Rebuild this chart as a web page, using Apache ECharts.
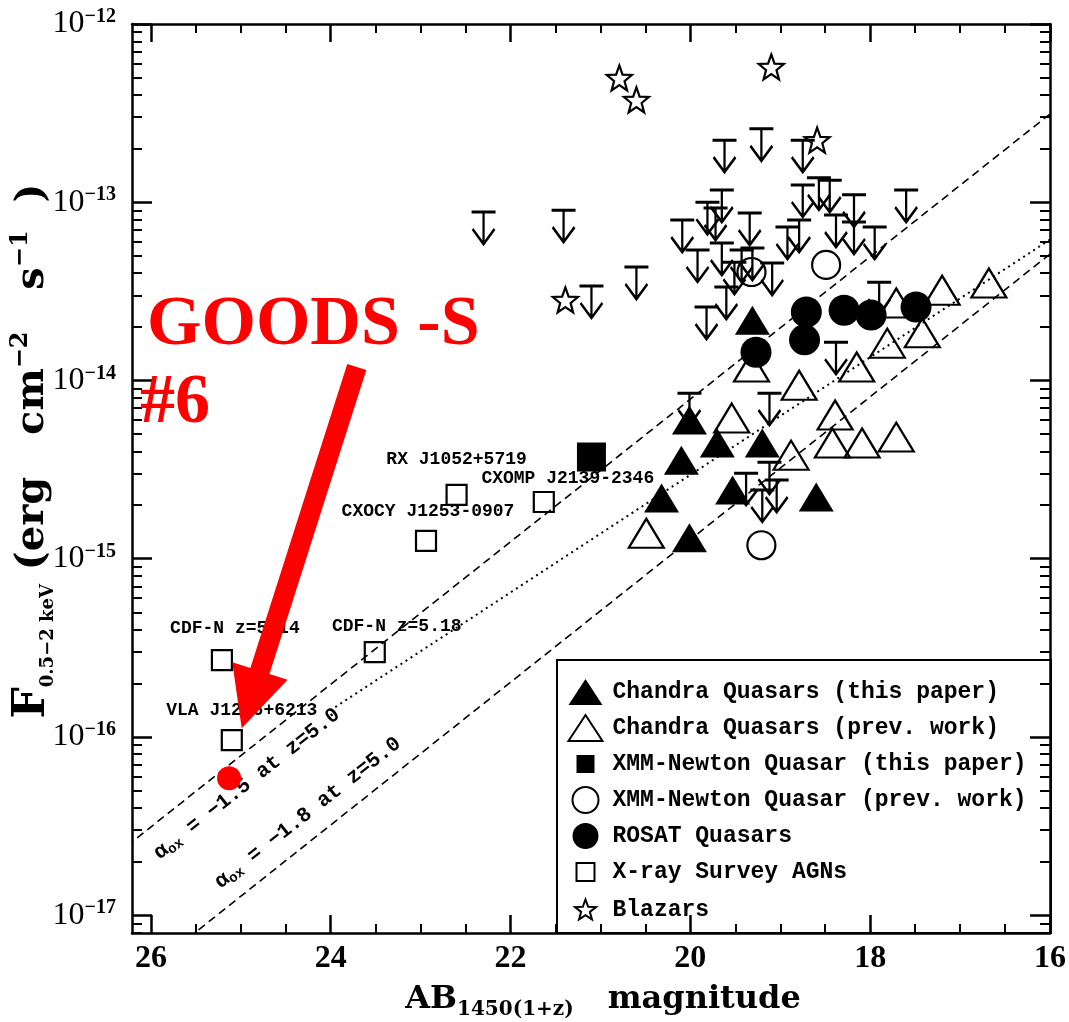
<!DOCTYPE html>
<html><head><meta charset="utf-8">
<script src="https://cdn.jsdelivr.net/npm/echarts@6/dist/echarts.min.js"></script>
<style>html,body{margin:0;padding:0;background:#fff}#c{width:1069px;height:1022px}</style>
</head><body><div id="c"></div>
<script>
// ---------------- DATA ----------------
// x: AB_1450(1+z) magnitude ; y: F(0.5-2 keV) in erg cm^-2 s^-1
const xTickValues = [16, 18, 20, 22, 24, 26];
const xMinorTickValues = [16.5, 17, 17.5, 18.5, 19, 19.5, 20.5, 21, 21.5, 22.5, 23, 23.5, 24.5, 25, 25.5];
const yTickExponents = [-17, -16, -15, -14, -13, -12];
const yMinorMultipliers = [2, 3, 4, 5, 6, 7, 8, 9];

const chandraThisMag  = [19.31, 20.01, 19.70, 19.20, 20.10, 20.32, 19.53, 18.60, 20.01];
const chandraThisFlux = [2.18e-14, 6.0e-15, 4.46e-15, 4.46e-15, 3.57e-15, 2.19e-15, 2.43e-15, 2.22e-15, 1.31e-15];

const chandraPrevMag  = [16.68, 17.20, 17.71, 17.42, 17.81, 18.15, 19.32, 18.79, 19.54, 18.39, 18.42, 18.09, 17.71, 18.88, 20.49];
const chandraPrevFlux = [3.52e-14, 3.21e-14, 2.72e-14, 1.85e-14, 1.62e-14, 1.19e-14, 1.19e-14, 9.4e-15, 6.15e-15, 6.4e-15, 4.46e-15, 4.46e-15, 4.81e-15, 3.81e-15, 1.39e-15];

const xmmThisMag  = [21.10];
const xmmThisFlux = [3.72e-15];

const xmmPrevMag  = [19.21, 18.49, 19.32];
const xmmPrevFlux = [1.19e-15, 4.45e-14, 4.06e-14];

const rosatMag  = [17.49, 17.99, 18.29, 18.71, 18.73, 19.27];
const rosatFlux = [2.58e-14, 2.33e-14, 2.48e-14, 2.42e-14, 1.69e-14, 1.44e-14];

const surveyNames = ['RX J1052+5719', 'CXOMP J2139-2346', 'CXOCY J1253-0907', 'CDF-N z=5.14', 'CDF-N z=5.18', 'VLA J1236+6213'];
const surveyMag   = [22.60, 21.63, 22.94, 25.21, 23.51, 25.10];
const surveyFlux  = [2.28e-15, 2.08e-15, 1.26e-15, 2.70e-16, 2.99e-16, 9.6e-17];

const blazarMag  = [20.79, 20.60, 19.10, 18.59, 21.39];
const blazarFlux = [4.98e-13, 3.75e-13, 5.74e-13, 2.23e-13, 2.83e-14];

const upperLimMag  = [22.30, 21.41, 20.60, 21.10, 19.62, 19.21, 18.75, 19.65, 19.81, 20.09, 19.34, 18.75, 18.57, 18.45, 18.18, 17.60, 18.92, 18.79, 18.38, 18.18, 17.95, 19.92, 19.65, 19.43, 19.31, 19.09, 19.60, 19.82, 17.90, 18.38, 19.12, 20.01, 19.12, 19.38, 19.20, 19.04, 19.72, 19.51];
const upperLimFlux = [8.81e-14, 9.03e-14, 4.33e-14, 3.39e-14, 2.23e-13, 2.58e-13, 2.23e-13, 1.17e-13, 1.00e-13, 7.94e-14, 8.69e-14, 1.25e-13, 1.37e-13, 1.33e-13, 1.10e-13, 1.17e-13, 7.26e-14, 7.94e-14, 8.47e-14, 7.74e-14, 7.26e-14, 5.40e-14, 5.90e-14, 5.40e-14, 5.53e-14, 4.56e-14, 3.34e-14, 2.58e-14, 3.56e-14, 1.64e-14, 8.49e-15, 8.49e-15, 3.48e-15, 3.02e-15, 2.43e-15, 2.76e-15, 9.27e-14, 4.61e-14];

const goodsMag  = [25.13];
const goodsFlux = [5.87e-17];

// reference lines (end points)
const aox15Mag  = [16, 26.21];
const aox15Flux = [3.126e-13, 2.576e-17];
const aoxLMag   = [16, 23.95];
const aoxLFlux  = [6.17e-14, 1.47e-16];
const aox18Mag  = [16, 25.52];
const aox18Flux = [5.12e-14, 7.9e-18];

// annotation arrow (data coordinates)
const arrowTail = [23.71, 1.19e-14];
const arrowTip  = [24.99, 1.12e-16];

const legendNames = ['Chandra Quasars (this paper)', 'Chandra Quasars (prev. work)', 'XMM-Newton Quasar (this paper)', 'XMM-Newton Quasar (prev. work)', 'ROSAT Quasars', 'X-ray Survey AGNs', 'Blazars'];

// ---------------- BUILD ----------------
const pts = (ms, fs) => ms.map((m, i) => [m, Math.log10(fs[i])]);

function starPath(cx, cy, R, r, pad) {
  let s = 'path://';
  if (pad) s += 'M' + (cx - pad) + ',' + (cy - pad) + 'M' + (cx + pad) + ',' + (cy + pad);
  for (let i = 0; i < 10; i++) {
    const a = (-90 + i * 36) * Math.PI / 180;
    const rr = i % 2 ? r : R;
    s += (i ? 'L' : 'M') + (cx + rr * Math.cos(a)).toFixed(2) + ',' + (cy + rr * Math.sin(a)).toFixed(2);
  }
  return s + 'Z';
}
const STAR = starPath(12, 12, 12, 5, 0);
const STAR_LEG = starPath(13, 13, 11, 4.6, 13);
const SQ_LEG = 'path://M0,0M26,26M4,4L22,4L22,22L4,22Z';
const ULIM = 'path://M0,0L24,0M12,0L12,32M1,17L12,32L23,17';

const minorY = [];
for (let n = -18; n <= -13; n++) yMinorMultipliers.forEach(k => { const v = n + Math.log10(k); if (v > -17.1 && v < -12) minorY.push(v); });

const black = '#000';
const tickLine = { color: black, width: 2.5 };
const xBase = { type: 'value', min: 16, max: 26.21, inverse: true, splitLine: { show: false }, axisPointer: { show: false } };
const yBase = { type: 'value', min: -17.10, max: -12, splitLine: { show: false }, axisPointer: { show: false } };

const xLabel = { customValues: xTickValues, margin: 10, color: black, fontFamily: 'Liberation Serif', fontWeight: 'bold', fontSize: 32, formatter: v => String(Math.round(v)) };
const yLabel = {
  customValues: yTickExponents, margin: 16, color: black,
  formatter: v => '{b|10}{s|\u2212' + Math.abs(Math.round(v)) + '}',
  rich: {
    b: { fontFamily: 'Liberation Serif', fontSize: 32, lineHeight: 34, color: black },
    s: { fontFamily: 'Liberation Serif', fontWeight: 'bold', fontSize: 20, lineHeight: 20, verticalAlign: 'top', color: black }
  }
};

const xAxes = [
  Object.assign({}, xBase, { position: 'bottom', axisLine: { show: true, onZero: false, lineStyle: tickLine }, axisTick: { inside: true, length: 18, lineStyle: tickLine, customValues: xTickValues }, axisLabel: xLabel }),
  Object.assign({}, xBase, { position: 'bottom', axisLine: { show: false }, axisTick: { inside: true, length: 9, lineStyle: { color: black, width: 2 }, customValues: xMinorTickValues }, axisLabel: { show: false } }),
  Object.assign({}, xBase, { position: 'top', axisLine: { show: true, onZero: false, lineStyle: tickLine }, axisTick: { inside: true, length: 18, lineStyle: tickLine, customValues: xTickValues }, axisLabel: { show: false } }),
  Object.assign({}, xBase, { position: 'top', axisLine: { show: false }, axisTick: { inside: true, length: 9, lineStyle: { color: black, width: 2 }, customValues: xMinorTickValues }, axisLabel: { show: false } })
];
const yAxes = [
  Object.assign({}, yBase, { position: 'left', axisLine: { show: true, onZero: false, lineStyle: tickLine }, axisTick: { inside: true, length: 20, lineStyle: tickLine, customValues: yTickExponents }, axisLabel: yLabel }),
  Object.assign({}, yBase, { position: 'left', axisLine: { show: false }, axisTick: { inside: true, length: 10, lineStyle: { color: black, width: 2 }, customValues: minorY }, axisLabel: { show: false } }),
  Object.assign({}, yBase, { position: 'right', axisLine: { show: true, onZero: false, lineStyle: tickLine }, axisTick: { inside: true, length: 20, lineStyle: tickLine, customValues: yTickExponents }, axisLabel: { show: false } }),
  Object.assign({}, yBase, { position: 'right', axisLine: { show: false }, axisTick: { inside: true, length: 10, lineStyle: { color: black, width: 2 }, customValues: minorY }, axisLabel: { show: false } })
];

const labelOffsets = {
  'RX J1052+5719': [0, -6], 'CXOMP J2139-2346': [24, 6], 'CXOCY J1253-0907': [2, 0],
  'CDF-N z=5.14': [13, -2], 'CDF-N z=5.18': [22, 4], 'VLA J1236+6213': [10, 0]
};

const openStyle = { color: 'none', borderColor: black, borderWidth: 2.2, opacity: 1 };
const solid = { color: black, opacity: 1 };
const series = [
  { name: 'aox15', type: 'line', data: pts(aox15Mag, aox15Flux), symbol: 'none', silent: true, z: 1, lineStyle: { color: black, width: 1.6, type: [8, 5] } },
  { name: 'aoxL', type: 'line', data: pts(aoxLMag, aoxLFlux), symbol: 'none', silent: true, z: 1, lineStyle: { color: black, width: 2, type: [2, 4] } },
  { name: 'aox18', type: 'line', data: pts(aox18Mag, aox18Flux), symbol: 'none', silent: true, z: 1, lineStyle: { color: black, width: 1.6, type: [8, 5] } },
  { name: 'Upper limits', type: 'scatter', data: pts(upperLimMag, upperLimFlux), symbol: ULIM, symbolSize: [24, 32], symbolOffset: [0, '50%'], itemStyle: { color: 'none', borderColor: black, borderWidth: 2.6, opacity: 1 }, z: 3 },
  { name: legendNames[1], type: 'scatter', data: pts(chandraPrevMag, chandraPrevFlux), symbol: 'triangle', symbolSize: [35, 29], itemStyle: openStyle, z: 4 },
  { name: legendNames[3], type: 'scatter', data: pts(xmmPrevMag, xmmPrevFlux), symbol: 'circle', symbolSize: 28, itemStyle: openStyle, z: 4 },
  { name: legendNames[4], type: 'scatter', data: pts(rosatMag, rosatFlux), symbol: 'circle', symbolSize: 31, itemStyle: solid, z: 5 },
  { name: legendNames[0], type: 'scatter', data: pts(chandraThisMag, chandraThisFlux), symbol: 'triangle', symbolSize: [35, 29], itemStyle: solid, z: 5 },
  { name: legendNames[2], type: 'scatter', data: pts(xmmThisMag, xmmThisFlux), symbol: 'rect', symbolSize: 29, itemStyle: solid, z: 5 },
  { name: legendNames[5], type: 'scatter', symbol: 'rect', symbolSize: 20, itemStyle: openStyle, z: 5,
    data: surveyMag.map((m, i) => ({ name: surveyNames[i], value: [m, Math.log10(surveyFlux[i])], label: { offset: labelOffsets[surveyNames[i]] } })),
    label: { show: true, position: 'top', distance: 8, formatter: p => p.name, fontFamily: 'Liberation Mono', fontWeight: 'bold', fontSize: 18, color: black } },
  { name: legendNames[6], type: 'scatter', data: pts(blazarMag, blazarFlux), symbol: STAR, symbolSize: 25, itemStyle: openStyle, z: 5 },
  { name: 'GOODS-S #6', type: 'scatter', data: pts(goodsMag, goodsFlux), symbol: 'circle', symbolSize: 24, itemStyle: { color: '#ff0000', opacity: 1 }, z: 20 }
];

const legendIcons = ['triangle', 'triangle', SQ_LEG, 'circle', 'circle', SQ_LEG, STAR_LEG];

const chart = echarts.init(document.getElementById('c'));
chart.setOption({
  animation: false,
  backgroundColor: '#ffffff',
  grid: { left: 132, right: 18, top: 24, bottom: 89 },
  xAxis: xAxes,
  yAxis: yAxes,
  legend: {
    orient: 'vertical', left: 566, top: 679, padding: 0, itemGap: 7.5, itemWidth: 34, itemHeight: 26,
    selectedMode: false,
    textStyle: { fontFamily: 'Liberation Mono', fontWeight: 'bold', fontSize: 23, color: black, padding: [0, 0, 0, 5] },
    data: legendNames.map((n, i) => ({ name: n, icon: legendIcons[i] }))
  },
  series: series
});

// ---------------- ANNOTATIONS ----------------
const px = (p) => chart.convertToPixel({ seriesIndex: 0 }, [p[0], Math.log10(p[1])]);
const T = px(arrowTip), S = px(arrowTail);
const dx = T[0] - S[0], dy = T[1] - S[1], L = Math.hypot(dx, dy);
const ux = dx / L, uy = dy / L, nx = -uy, ny = ux;
const headLen = 60, headHalf = 29, shaftHalf = 10;
const H = [T[0] - ux * headLen, T[1] - uy * headLen];
const arrowPts = [
  [S[0] + nx * shaftHalf, S[1] + ny * shaftHalf], [H[0] + nx * shaftHalf, H[1] + ny * shaftHalf],
  [H[0] + nx * headHalf, H[1] + ny * headHalf], T,
  [H[0] - nx * headHalf, H[1] - ny * headHalf], [H[0] - nx * shaftHalf, H[1] - ny * shaftHalf],
  [S[0] - nx * shaftHalf, S[1] - ny * shaftHalf]
];
const rot = Math.atan(0.79);
const lineLabelRich = {
  n: { fontFamily: 'Liberation Mono', fontWeight: 'bold', fontSize: 21, lineHeight: 24, fill: black },
  s: { fontFamily: 'Liberation Mono', fontWeight: 'bold', fontSize: 14, lineHeight: 14, verticalAlign: 'bottom', fill: black }
};

chart.setOption({
  graphic: [
    { type: 'rect', shape: { x: 557, y: 660, width: 494, height: 273 }, style: { fill: 'none', stroke: black, lineWidth: 2 }, z: 10 },
    { type: 'text', x: 247, y: 784, rotation: rot, z: 8, style: { text: '{n|\u03b1}{s|ox}{n| = \u22121.5 at z=5.0}', rich: lineLabelRich, align: 'center', verticalAlign: 'middle' } },
    { type: 'text', x: 308, y: 813, rotation: rot, z: 8, style: { text: '{n|\u03b1}{s|ox}{n| = \u22121.8 at z=5.0}', rich: lineLabelRich, align: 'center', verticalAlign: 'middle' } },
    { type: 'text', x: 603, y: 1000, z: 10, style: {
        text: '{a|AB}{s|1450(1+z)}{m|magnitude}', align: 'center', verticalAlign: 'middle',
        rich: { a: { fontFamily: 'DejaVu Serif', fontWeight: 'bold', fontSize: 32, lineHeight: 40, fill: black },
                m: { fontFamily: 'DejaVu Serif', fontWeight: 'bold', fontSize: 32, lineHeight: 40, fill: black, padding: [0, 0, 0, 34] },
                s: { fontFamily: 'DejaVu Serif', fontWeight: 'bold', fontSize: 20, lineHeight: 20, verticalAlign: 'bottom', fill: black } } } },
    { type: 'text', x: 33, y: 451, rotation: Math.PI / 2, z: 10, style: {
        text: '{f|F}{sub|0.5\u22122 keV}{n| (erg   cm}{sup|\u22122}{n|   s}{sup|\u22121}{n|  )}', align: 'center', verticalAlign: 'middle',
        rich: { f: { fontFamily: 'DejaVu Serif', fontWeight: 'bold', fontSize: 44, lineHeight: 48, fill: black },
                n: { fontFamily: 'DejaVu Serif', fontWeight: 'bold', fontSize: 40, lineHeight: 48, fill: black },
                sub: { fontFamily: 'DejaVu Serif', fontWeight: 'bold', fontSize: 18, lineHeight: 20, verticalAlign: 'bottom', fill: black },
                sup: { fontFamily: 'DejaVu Serif', fontWeight: 'bold', fontSize: 24, lineHeight: 24, verticalAlign: 'top', fill: black } } } },
    { type: 'polygon', shape: { points: arrowPts }, style: { fill: '#ff0000' }, z: 30 },
    { type: 'text', x: 147, y: 326, z: 30, style: { text: 'GOODS -S', font: 'bold 70px "Liberation Serif"', fill: '#ff0000', align: 'left', verticalAlign: 'middle' } },
    { type: 'text', x: 140, y: 404, z: 30, style: { text: '#6', font: 'bold 70px "Liberation Serif"', fill: '#ff0000', align: 'left', verticalAlign: 'middle' } }
  ]
});
</script>
</body></html>
